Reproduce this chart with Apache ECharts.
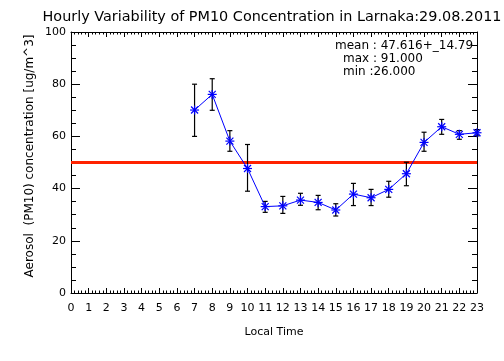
<!DOCTYPE html>
<html>
<head>
<meta charset="utf-8">
<script src="https://cdn.jsdelivr.net/npm/echarts@6/dist/echarts.min.js"></script>
<style>html,body{margin:0;padding:0;background:#fff;}#c{width:504px;height:361px;}</style>
</head>
<body>
<div id="c"></div>
<script>
const hours = [7, 8, 9, 10, 11, 12, 13, 14, 15, 16, 17, 18, 19, 20, 21, 22, 23];
const means = [70.1, 76.1, 58.2, 47.7, 33.1, 33.4, 35.6, 34.7, 31.8, 37.9, 36.5, 39.7, 45.7, 57.7, 63.7, 60.8, 61.4];
const upper = [80.0, 82.1, 62.2, 56.9, 35.1, 37.0, 38.2, 37.4, 34.2, 42.0, 39.7, 42.8, 50.1, 61.6, 66.5, 62.2, 62.6];
const lower = [60.0, 70.0, 54.3, 39.0, 30.9, 30.5, 33.6, 31.9, 29.5, 33.5, 33.5, 36.7, 41.1, 54.3, 60.8, 58.9, 60.2];
const threshold = 50;
const xTicks = [0, 23, 1];   // min, max, interval
const yTicks = [0, 100, 20];
const titleText = 'Hourly Variability of PM10 Concentration in Larnaka:29.08.2011';
const statLines = ['mean : 47.616+_14.79', 'max : 91.000', 'min :26.000'];

const FONT = 'DejaVu Sans';
const chart = echarts.init(document.getElementById('c'), null, {renderer: 'canvas'});

const lineData = hours.map((h, i) => [h, means[i]]);
const errData = hours.map((h, i) => [h, lower[i], upper[i]]);

function mkX(pos, showLabel) {
  return {
    type: 'value', position: pos, min: xTicks[0], max: xTicks[1], interval: xTicks[2],
    axisLine: {show: true, onZero: false, lineStyle: {color: '#000', width: 1}},
    axisTick: {show: true, inside: true, length: 5, lineStyle: {color: '#000'}},
    minorTick: {show: true, splitNumber: 5, length: 2.5, lineStyle: {color: '#000'}},
    splitLine: {show: false},
    axisLabel: {show: showLabel, color: '#000', fontFamily: FONT, fontSize: 11, margin: 10}
  };
}
function mkY(pos, showLabel) {
  return {
    type: 'value', position: pos, min: yTicks[0], max: yTicks[1], interval: yTicks[2],
    axisLine: {show: true, onZero: false, lineStyle: {color: '#000', width: 1}},
    axisTick: {show: true, inside: true, length: 9, lineStyle: {color: '#000'}},
    minorTick: {show: true, splitNumber: 4, length: 5, lineStyle: {color: '#000'}},
    splitLine: {show: false},
    axisLabel: {show: showLabel, color: '#000', fontFamily: FONT, fontSize: 11, margin: 5}
  };
}

chart.setOption({
  animation: false,
  backgroundColor: '#fff',
  grid: {left: 71, right: 27, top: 32, bottom: 68, containLabel: false},
  xAxis: [mkX('bottom', true), mkX('top', false)],
  yAxis: [mkY('left', true), mkY('right', false)],
  graphic: [
    {type: 'text', style: {text: titleText, x: 272, y: 17, fill: '#000', font: '14.4px ' + FONT, textAlign: 'center', textVerticalAlign: 'middle'}},
    {type: 'text', style: {text: 'Local Time', x: 274, y: 332, fill: '#000', font: '11px ' + FONT, textAlign: 'center', textVerticalAlign: 'middle'}},
    {type: 'text', x: 30, y: 156, rotation: Math.PI / 2, style: {text: 'Aerosol  (PM10) concentration [ug/m^3]', x: 0, y: 0, fill: '#000', font: '12px ' + FONT, textAlign: 'center', textVerticalAlign: 'middle'}},
    {type: 'text', style: {text: statLines[0], x: 335, y: 46, fill: '#000', font: '12px ' + FONT, textAlign: 'left', textVerticalAlign: 'middle'}},
    {type: 'text', style: {text: statLines[1], x: 343, y: 59, fill: '#000', font: '12px ' + FONT, textAlign: 'left', textVerticalAlign: 'middle'}},
    {type: 'text', style: {text: statLines[2], x: 343, y: 72, fill: '#000', font: '12px ' + FONT, textAlign: 'left', textVerticalAlign: 'middle'}}
  ],
  series: [
    {
      type: 'line', data: [[xTicks[0], threshold], [xTicks[1], threshold]], showSymbol: false, symbol: 'none',
      lineStyle: {color: '#ff2200', width: 3}, z: 3, silent: true
    },
    {
      type: 'custom', data: errData, z: 4, silent: true,
      renderItem: function (params, api) {
        const x = api.value(0);
        const lo = api.coord([x, api.value(1)]);
        const hi = api.coord([x, api.value(2)]);
        const w = 2.5;
        const st = {stroke: '#000', lineWidth: 1.2, fill: null};
        return {type: 'group', children: [
          {type: 'line', shape: {x1: lo[0], y1: lo[1], x2: hi[0], y2: hi[1]}, style: st},
          {type: 'line', shape: {x1: lo[0] - w, y1: lo[1], x2: lo[0] + w, y2: lo[1]}, style: st},
          {type: 'line', shape: {x1: hi[0] - w, y1: hi[1], x2: hi[0] + w, y2: hi[1]}, style: st}
        ]};
      }
    },
    {
      type: 'line', data: lineData, showSymbol: false, symbol: 'none',
      lineStyle: {color: '#0000ff', width: 1}, z: 5, silent: true
    },
    {
      type: 'custom', data: lineData, z: 6, silent: true,
      renderItem: function (params, api) {
        const p = api.coord([api.value(0), api.value(1)]);
        const r = 4.5, d = 3.5;
        const st = {stroke: '#0000ff', lineWidth: 1.2, fill: null};
        return {type: 'group', children: [
          {type: 'line', shape: {x1: p[0] - r, y1: p[1], x2: p[0] + r, y2: p[1]}, style: st},
          {type: 'line', shape: {x1: p[0], y1: p[1] - r, x2: p[0], y2: p[1] + r}, style: st},
          {type: 'line', shape: {x1: p[0] - d, y1: p[1] - d, x2: p[0] + d, y2: p[1] + d}, style: st},
          {type: 'line', shape: {x1: p[0] - d, y1: p[1] + d, x2: p[0] + d, y2: p[1] - d}, style: st}
        ]};
      }
    }
  ]
});
</script>
</body>
</html>
